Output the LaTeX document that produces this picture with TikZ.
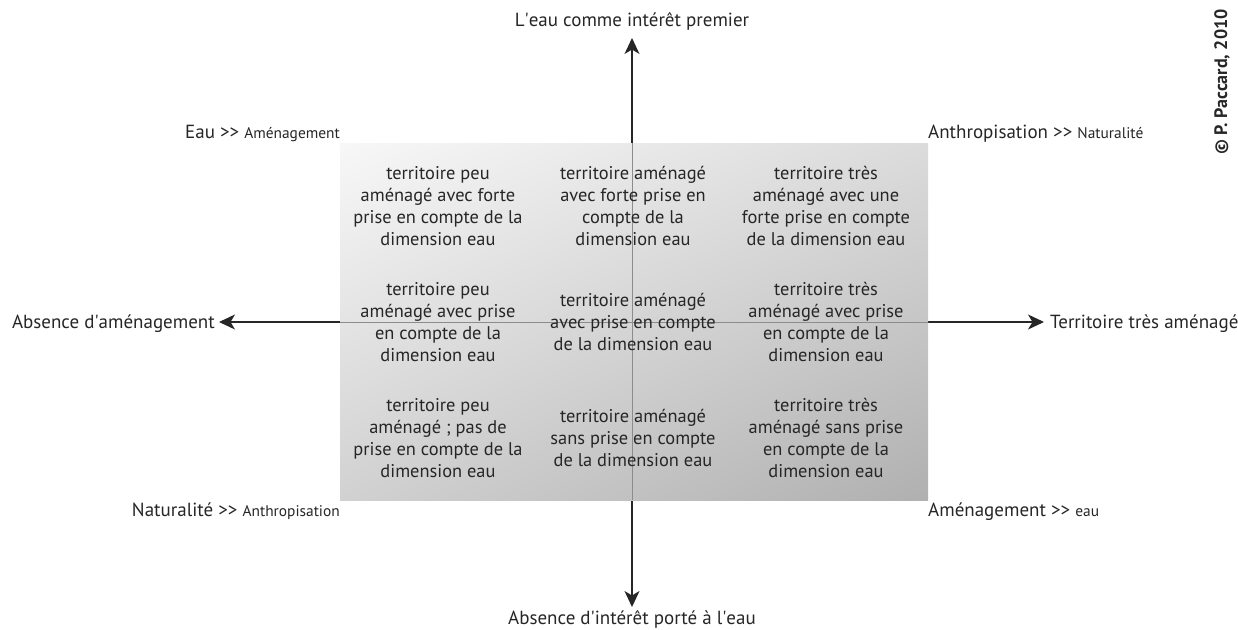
\documentclass[tikz,border=0pt]{standalone}
\usepackage{fontspec}
\setmainfont{PT Sans}
\usetikzlibrary{arrows.meta,shadings}
\newcommand{\dblgt}{>\kern0pt>}
\newcommand{\ap}{\textquotesingle}
\begin{document}
\begin{tikzpicture}[x=1pt,y=-1pt,
  axis/.style={line width=1.3pt,color=black!85,-{Stealth[length=16pt,width=15pt,inset=4.5pt]}},
  inner/.style={line width=1pt,color=black!45},
  cell/.style={align=center,font=\fontsize{18.4}{21.8}\selectfont,text=black!85,inner sep=0pt},
  lab/.style={font=\fontsize{19}{22}\selectfont,text=black!85,inner sep=0pt}]
\useasboundingbox (0,0) rectangle (1238,629);
% axes
\coordinate (c) at (632,322);
\coordinate (tN) at (632,38);
\coordinate (tS) at (632,607);
\coordinate (tW) at (219,322);
\coordinate (tE) at (1044,322);
\draw[axis] (c) -- (tN);
\draw[axis] (c) -- (tS);
\draw[axis] (c) -- (tW);
\draw[axis] (c) -- (tE);
% shaded area
\shade[upper left=black!3,upper right=black!14,lower left=black!18,lower right=black!31]
  (340,143) rectangle (928,500);
\coordinate (rN) at (632,143);
\coordinate (rS) at (632,500);
\coordinate (rW) at (340,322);
\coordinate (rE) at (928,322);
\draw[inner] (rN) -- (rS);
\draw[inner] (rW) -- (rE);
% axis labels
\node[lab,anchor=base] (lN) at (632,27) {L\ap eau comme intérêt premier};
\node[lab,anchor=base] (lS) at (632,624) {Absence d\ap intérêt porté à l\ap eau};
\node[lab,anchor=base east] (lW) at (215,328) {Absence d\ap aménagement};
\node[lab,anchor=base west] (lE) at (1050,328) {Territoire très aménagé};
% corner labels
\node[lab,anchor=base east] (cNW) at (340,138) {Eau \dblgt{} {\fontsize{15.4}{18}\selectfont Aménagement}};
\node[lab,anchor=base west] (cNE) at (928,138) {Anthropisation \dblgt{} {\fontsize{15.4}{18}\selectfont Naturalité}};
\node[lab,anchor=base east] (cSW) at (340,516) {Naturalité \dblgt{} {\fontsize{15.4}{18}\selectfont Anthropisation}};
\node[lab,anchor=base west] (cSE) at (928,516) {Aménagement \dblgt{} {\fontsize{15.4}{18}\selectfont eau}};
% cells
\node[cell] (a1) at (438,206) {territoire peu\\aménagé avec forte\\prise en compte de la\\dimension eau};
\node[cell] (a2) at (633,206) {territoire aménagé\\avec forte prise en\\compte de la\\dimension eau};
\node[cell] (a3) at (826,206) {territoire très\\aménagé avec une\\forte prise en compte\\de la dimension eau};
\node[cell] (b1) at (438,322) {territoire peu\\aménagé avec prise\\en compte de la\\dimension eau};
\node[cell] (b2) at (633,322) {territoire aménagé\\avec prise en compte\\de la dimension eau};
\node[cell] (b3) at (826,322) {territoire très\\aménagé avec prise\\en compte de la\\dimension eau};
\node[cell] (c1) at (438,438) {territoire peu\\aménagé ; pas de\\prise en compte de la\\dimension eau};
\node[cell] (c2) at (633,438) {territoire aménagé\\sans prise en compte\\de la dimension eau};
\node[cell] (c3) at (826,438) {territoire très\\aménagé sans prise\\en compte de la\\dimension eau};
% copyright
\node[font=\fontsize{18}{20}\selectfont\bfseries,text=black!85,rotate=90,inner sep=0pt] (copy) at (1222,82) {© P. Paccard, 2010};
\end{tikzpicture}
\end{document}
